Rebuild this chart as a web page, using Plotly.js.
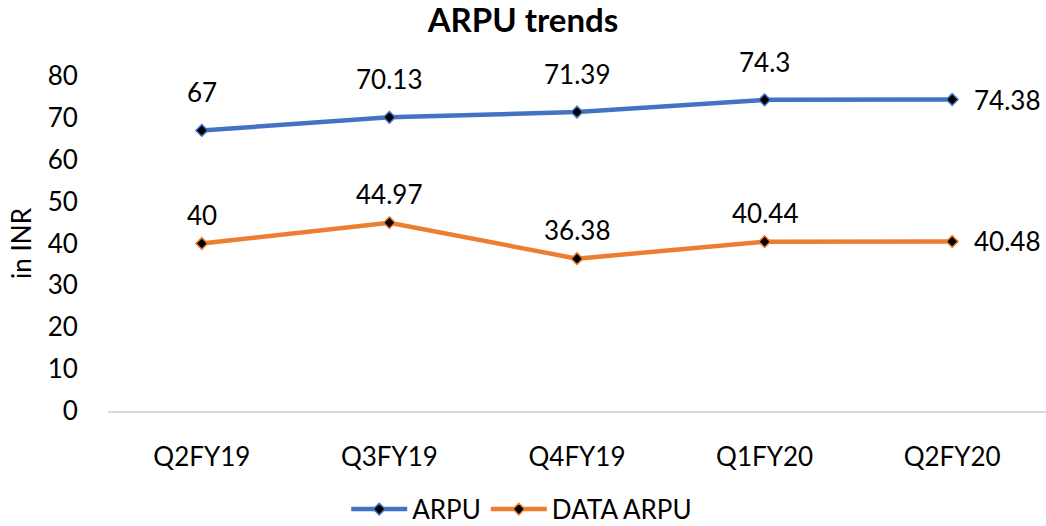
<!DOCTYPE html>
<html>
<head>
<meta charset="utf-8">
<script src="https://cdn.plot.ly/plotly-3.0.1.min.js"></script>
<style>
  html, body { margin: 0; padding: 0; background: #fff; }
  #chart { width: 1046px; height: 526px; }
</style>
</head>
<body>
<div id="chart"></div>
<script>
// ARPU trends chart data
const quarters = ['Q2FY19', 'Q3FY19', 'Q4FY19', 'Q1FY20', 'Q2FY20'];
const arpu = [67, 70.13, 71.39, 74.3, 74.38];
const dataArpu = [40, 44.97, 36.38, 40.44, 40.48];
const yTicks = [0, 10, 20, 30, 40, 50, 60, 70, 80];

const FONT = 'Lato, "Open Sans", sans-serif';
const BLUE = '#4472C4';
const ORANGE = '#ED7D31';

function makeTrace(name, values, color) {
    return {
        x: quarters,
        y: values,
        name: name,
        type: 'scatter',
        mode: 'lines+markers',
        line: { color: color, width: 4.5 },
        marker: { symbol: 'diamond', size: 9, color: '#000', line: { color: color, width: 1.5 } },
        hoverinfo: 'x+y'
    };
}

// Data labels: above each point, last one to the right
function makeLabels(values, shiftUp) {
    return values.map((v, i) => {
        const last = i === values.length - 1;
        return {
            x: quarters[i],
            y: v,
            xref: 'x',
            yref: 'y',
            text: String(v),
            showarrow: false,
            xanchor: last ? 'left' : 'center',
            yanchor: 'middle',
            xshift: last ? 20 : 0,
            yshift: last ? 0 : shiftUp,
            font: { family: FONT, size: 26, color: '#000' }
        };
    });
}

const layout = {
    width: 1046,
    height: 526,
    margin: { l: 108, r: 0, t: 76, b: 115 },
    paper_bgcolor: '#fff',
    plot_bgcolor: '#fff',
    font: { family: FONT, size: 26, color: '#000' },
    title: {
        text: '<b>ARPU trends</b>',
        font: { family: FONT, size: 33, color: '#000' },
        x: 0.5,
        xref: 'container',
        y: 0.962,
        yref: 'container',
        yanchor: 'middle'
    },
    xaxis: {
        type: 'category',
        range: [-0.5, 4.5],
        showgrid: false,
        zeroline: false,
        showline: true,
        linecolor: '#d9d9d9',
        linewidth: 1.5,
        ticks: 'outside',
        ticklen: 22,
        tickcolor: 'rgba(0,0,0,0)',
        tickfont: { family: FONT, size: 26, color: '#000' }
    },
    yaxis: {
        range: [0, 80],
        tickvals: yTicks,
        showgrid: false,
        zeroline: false,
        showline: false,
        ticks: 'outside',
        ticklen: 24,
        tickcolor: 'rgba(0,0,0,0)',
        tickfont: { family: FONT, size: 26, color: '#000' },
        title: { text: 'in INR', font: { family: FONT, size: 26, color: '#000' }, standoff: 8 }
    },
    showlegend: true,
    legend: {
        orientation: 'h',
        x: 0.331,
        xref: 'container',
        xanchor: 'left',
        y: 0.032,
        yref: 'container',
        yanchor: 'middle',
        font: { family: FONT, size: 26, color: '#000' },
        itemwidth: 56
    },
    annotations: makeLabels(arpu, 38).concat(makeLabels(dataArpu, 29))
};

Plotly.newPlot('chart', [
    makeTrace('ARPU', arpu, BLUE),
    makeTrace('DATA ARPU', dataArpu, ORANGE)
], layout, { displayModeBar: false, staticPlot: true });
</script>
</body>
</html>
